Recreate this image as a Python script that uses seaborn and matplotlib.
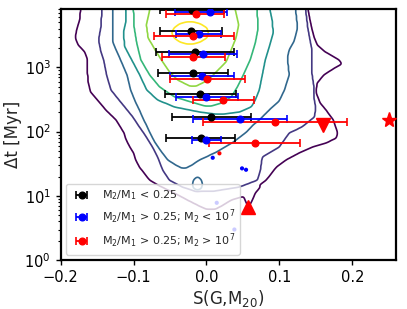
import numpy as np
import matplotlib
matplotlib.use('Agg')
import matplotlib.pyplot as plt
import seaborn as sns

sns.set_style('ticks')
plt.rcParams['font.family'] = ['DejaVu Sans']
plt.rcParams.update({'axes.linewidth': 1.6, 'axes.edgecolor': 'black',
                     'xtick.color': 'black', 'ytick.color': 'black',
                     'xtick.major.size': 3.5, 'ytick.major.size': 3.5,
                     'ytick.minor.size': 2, 'xtick.major.width': 1.0,
                     'ytick.major.width': 1.0, 'ytick.minor.width': 0.8})

# binned points: S(G,M20), dt [Myr], and the x range of each bin
s_low = [-0.0195, -0.0209, -0.0160, -0.0187, -0.0086, 0.0064, -0.0078]
dt_low = [7840, 3730, 1757, 809, 381, 171, 80.4]
s_low_lo = [-0.0643, -0.0633, -0.0697, -0.0660, -0.0574, -0.0474, -0.0551]
s_low_hi = [0.0246, 0.0215, 0.0373, 0.0291, 0.0406, 0.0608, 0.0396]

s_minor = [0.0055, -0.0096, -0.0051, -0.0064, -0.0004, 0.0461, -0.0004]
dt_minor = [7210, 3350, 1600, 743, 342, 155, 73.2]
s_minor_lo = [-0.0437, -0.0414, -0.0515, -0.0506, -0.0424, -0.0187, -0.0195]
s_minor_hi = [0.0287, 0.0205, 0.0414, 0.0383, 0.0428, 0.1111, 0.0201]

s_major = [-0.0150, -0.0178, -0.0178, 0.0010, 0.0232, 0.0943, 0.0670]
dt_major = [6720, 3050, 1437, 660, 307, 141, 65.7]
s_major_lo = [-0.0560, -0.0725, -0.0606, -0.0496, -0.0187, -0.0051, 0.0041]
s_major_hi = [0.0246, 0.0373, 0.0260, 0.0533, 0.0647, 0.1932, 0.1285]

# single objects
s_single_blue = [0.0086, 0.0488, 0.0543, 0.0141, 0.0383]
dt_single_blue = [39.2, 26.8, 25.5, 7.81, 3.0]
s_single_red = [0.0178]
dt_single_red = [45.9]
s_tri_down, dt_tri_down = 0.1604, 127
s_tri_up, dt_tri_up = 0.0574, 6.8
s_star, dt_star = 0.2502, 152

# density contour extents: (log10 dt, S left, S right) per level
contour_1 = [(4.1, -0.171, 0.136), (3.738, -0.174, 0.142), (3.583, -0.178, 0.145),
             (3.458, -0.180, 0.148), (3.349, -0.176, 0.152), (3.240, -0.167, 0.163),
             (3.115, -0.163, 0.182), (3.053, -0.163, 0.186), (2.991, -0.163, 0.176),
             (2.882, -0.163, 0.161), (2.757, -0.162, 0.152), (2.617, -0.159, 0.150),
             (2.445, -0.146, 0.156), (2.336, -0.138, 0.164), (2.181, -0.124, 0.174),
             (1.978, -0.113, 0.180), (1.900, -0.111, 0.178), (1.822, -0.108, 0.164),
             (1.760, -0.105, 0.145), (1.667, -0.100, 0.127), (1.558, -0.097, 0.109),
             (1.449, -0.092, 0.096), (1.246, -0.078, 0.082), (1.153, -0.064, 0.071),
             (1.044, -0.044, 0.066), (0.935, -0.026, 0.034), (0.841, -0.0096, 0.0205),
             (0.794, 0.000, 0.0123)]
contour_1_spike = [(1.153, 0.045, 0.075), (1.044, 0.049, 0.067),
                   (0.935, 0.053, 0.063), (0.841, 0.0567, 0.0588)]
contour_1_dot = [(1.36, 0.1172, 0.1188), (1.32, 0.1172, 0.1188)]
contour_2 = [(4.1, -0.142, 0.134), (3.614, -0.145, 0.139), (3.427, -0.148, 0.142),
             (3.255, -0.145, 0.145), (3.115, -0.141, 0.145), (2.882, -0.137, 0.145),
             (2.648, -0.131, 0.148), (2.492, -0.120, 0.148), (2.368, -0.111, 0.150),
             (2.227, -0.101, 0.148), (2.072, -0.092, 0.131), (1.978, -0.086, 0.1135),
             (1.760, -0.074, 0.0998), (1.604, -0.067, 0.0765), (1.402, -0.060, 0.074),
             (1.246, -0.051, 0.070), (1.137, -0.033, 0.045), (1.075, -0.016, 0.011)]
contour_3 = [(4.1, -0.1285, 0.1203), (3.614, -0.1285, 0.125), (3.411, -0.129, 0.1203),
             (3.271, -0.124, 0.1135), (3.146, -0.119, 0.111), (2.882, -0.109, 0.1135),
             (2.648, -0.104, 0.107), (2.477, -0.098, 0.0998), (2.336, -0.092, 0.0861),
             (2.181, -0.086, 0.0725), (2.103, -0.0824, 0.064), (1.994, -0.078, 0.055),
             (1.838, -0.071, 0.037), (1.682, -0.0615, 0.0138), (1.558, -0.053, -0.0096),
             (1.480, -0.042, -0.020), (1.433, -0.034, -0.028)]
contour_3_loop = [(1.293, -0.0137, -0.0109), (1.246, -0.0178, -0.0068),
                  (1.184, -0.0192, -0.0055), (1.121, -0.0178, -0.0068),
                  (1.090, -0.0137, -0.0109)]
contour_4 = [(4.1, -0.112, 0.0834), (3.738, -0.110, 0.090), (3.536, -0.114, 0.0916),
             (3.318, -0.112, 0.0861), (3.115, -0.1025, 0.0807), (2.882, -0.0916, 0.0766),
             (2.648, -0.082, 0.0725), (2.492, -0.067, 0.067), (2.383, -0.0437, 0.0615),
             (2.305, -0.0096, 0.0451), (2.274, 0.011, 0.0246)]
contour_5 = [(4.1, -0.101, 0.068), (3.614, -0.099, 0.071), (3.380, -0.0957, 0.067),
             (3.115, -0.090, 0.060), (2.882, -0.078, 0.0506), (2.695, -0.0643, 0.0424),
             (2.539, -0.0437, 0.034), (2.445, -0.0164, 0.0205), (2.399, -0.0027, 0.0068)]
contour_6 = [(4.1, -0.0738, 0.0355), (3.660, -0.0824, 0.0442), (3.458, -0.080, 0.0406),
             (3.240, -0.0688, 0.0328), (3.084, -0.060, 0.0269), (2.928, -0.0506, 0.0133),
             (2.804, -0.0397, 0.0027), (2.710, -0.0232, -0.0137)]
contour_7 = [(3.707, -0.0273, -0.0178), (3.676, -0.0369, -0.0082), (3.614, -0.0444, 0.0007),
             (3.536, -0.0478, 0.0027), (3.458, -0.0444, 0.0007), (3.396, -0.0369, -0.0082),
             (3.364, -0.0273, -0.0178)]

regions = [(1, contour_1), (1, contour_1_spike), (1, contour_1_dot), (2, contour_2),
           (3, contour_3), (3, contour_3_loop), (4, contour_4), (5, contour_5),
           (6, contour_6), (7, contour_7)]

gx = np.arange(-0.21, 0.27, 0.001)
gy = np.arange(-0.1, 4.2, 0.005)
X = np.tile(gx, (len(gy), 1))
field = np.zeros((len(gy), len(gx)))
for level, rows in regions:
    rows = sorted(rows)
    ly = np.array([r[0] for r in rows])
    lo = np.interp(gy, ly, [r[1] for r in rows], left=np.nan, right=np.nan)
    hi = np.interp(gy, ly, [r[2] for r in rows], left=np.nan, right=np.nan)
    inside = (X >= lo[:, None]) & (X <= hi[:, None])
    field[inside] = np.maximum(field[inside], level)


def kernel(sigma):
    n = int(3 * sigma) + 1
    k = np.exp(-0.5 * (np.arange(-n, n + 1) / sigma) ** 2)
    return k / k.sum()


kx, ky = kernel(1.6), kernel(3.5)
field = np.apply_along_axis(lambda r: np.convolve(r, kx, mode='same'), 1, field)
field = np.apply_along_axis(lambda c: np.convolve(c, ky, mode='same'), 0, field)

fig = plt.figure(figsize=(4.07, 3.09), dpi=100)
ax = fig.add_axes([0.149, 0.158, 0.824, 0.812])
ax.set_yscale('log')

ax.contour(gx, 10 ** gy, field, levels=np.arange(0.5, 7, 1.0), cmap='viridis',
           linewidths=1.2, zorder=1)

sns.scatterplot(x=s_single_blue, y=dt_single_blue, color='blue', s=9,
                edgecolor='none', ax=ax, zorder=3)
sns.scatterplot(x=s_single_red, y=dt_single_red, color='red', s=9,
                edgecolor='none', ax=ax, zorder=3)

groups = [
    (s_low, dt_low, s_low_lo, s_low_hi, 'black', r'M$_2$/M$_1$ < 0.25'),
    (s_minor, dt_minor, s_minor_lo, s_minor_hi, 'blue',
     r'M$_2$/M$_1$ > 0.25; M$_2$ < 10$^7$'),
    (s_major, dt_major, s_major_lo, s_major_hi, 'red',
     r'M$_2$/M$_1$ > 0.25; M$_2$ > 10$^7$'),
]
for s, dt, lo, hi, c, lab in groups:
    s = np.array(s)
    xerr = [s - np.array(lo), np.array(hi) - s]
    ax.errorbar(s, dt, xerr=xerr, fmt='o', color=c, ecolor=c, ms=4.8,
                elinewidth=1.3, capsize=3, capthick=1.2, label=lab, zorder=4)

ax.plot(s_tri_down, dt_tri_down, 'v', color='red', ms=10, zorder=4)
ax.plot(s_tri_up, dt_tri_up, '^', color='red', ms=10, zorder=4)
ax.plot(s_star, dt_star, '*', color='red', ms=11, zorder=4)

ax.set_xlim(-0.2, 0.26)
ax.set_ylim(1, 8000)
ax.set_xticks([-0.2, -0.1, 0.0, 0.1, 0.2])
ax.tick_params(labelsize=10.5)
ax.set_xlabel(r'S(G,M$_{20}$)', fontsize=12, labelpad=2)
ax.set_ylabel('Δt [Myr]', fontsize=12, labelpad=2)
ax.legend(loc='lower left', fontsize=8, frameon=True, framealpha=0.8,
          borderaxespad=0.5)

fig.savefig('out.png', dpi=100)
